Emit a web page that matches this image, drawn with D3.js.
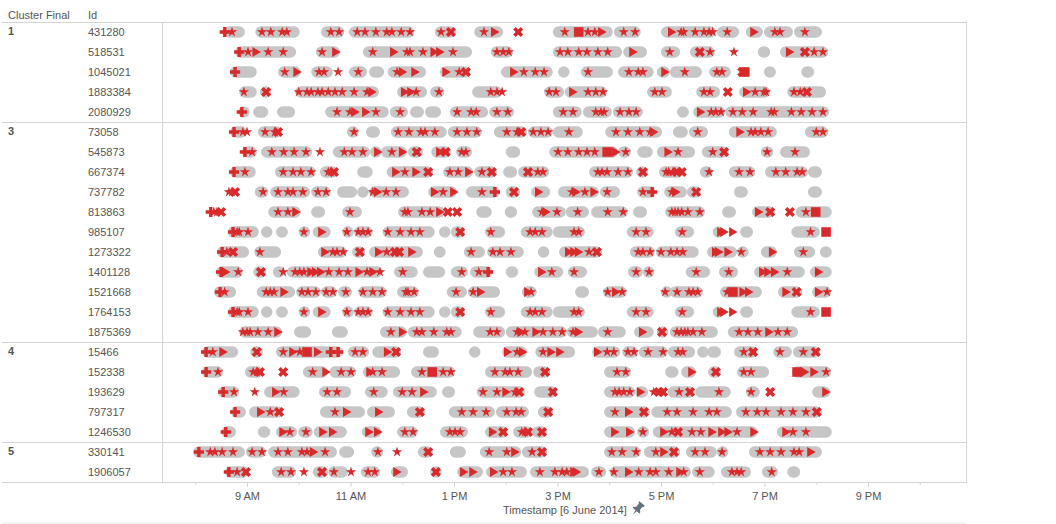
<!DOCTYPE html>
<html><head><meta charset="utf-8">
<script src="https://cdnjs.cloudflare.com/ajax/libs/d3/7.8.5/d3.min.js"></script>
<style>html,body{margin:0;padding:0;background:#fff;overflow:hidden}svg{display:block}text{font-family:"Liberation Sans",Arial,sans-serif;font-size:11px;fill:#555}</style>
</head><body><svg id="c" width="1056" height="524"></svg>
<script>
const clusters=["1","3","4","5"];
const clusterIds=[
[431280,518531,1045021,1883384,2080929],
[73058,545873,667374,737782,813863,985107,1273322,1401128,1521668,1764153,1875369],
[15466,152338,193629,797317,1246530],
[330141,1906057]];
const tickHours=[8,9,10,11,12,13,14,15,16,17,18,19,20,21,22];
const labelHours=[9,11,13,15,17,19,21];
const axisTitle="Timestamp [6 June 2014]";
const headerCluster="Cluster Final", headerId="Id";

// Timestamp spans and events in decimal hours of the day, one entry per Id in order.
const r985107Spans=[[8.63,9.23],[9.27,9.46],[9.56,9.79],[10,10.22],[10.27,10.62],[10.84,11.05],[11.07,11.43],[11.62,12.63],[12.71,12.92],[12.94,13.21],[13.6,13.99],[14.29,14.91],[14.91,15.53],[16.34,16.86],[17.27,17.64],[18,18.14],[18.53,18.78],[19.52,20.07]];
const r985107Stars=[8.81,8.85,9.02,10.1,10.93,11.15,11.24,11.34,11.72,11.96,12.17,12.34,13.71,14.47,14.57,14.7,15.32,15.41,16.52,16.71,17.41,19.89];
const spans=[
[[8.55,8.96],[9.16,10.02],[10.43,10.88],[10.97,12.23],[12.63,13.04],[13.39,13.95],[14.91,16.07],[16.09,16.61],[17,18.06],[18.08,18.51],[18.64,18.97],[18.99,19.55],[19.57,20.11]],
[[8.77,9.95],[10.33,10.8],[11.24,13.35],[13.71,14.14],[14.91,16.25],[16.27,16.73],[17,17.37],[17.56,18.04],[18.87,19.11],[19.3,20.23]],
[[8.67,9.19],[9.6,10.04],[10.24,10.66],[10.97,11.32],[11.36,11.65],[11.72,12.46],[12.73,13.31],[13.91,14.91],[15.01,15.2],[15.45,16.07],[16.17,16.86],[16.92,17.17],[17.17,17.79],[17.93,18.35],[18.99,19.22],[19.71,19.96]],
[[8.85,9.19],[9.25,9.45],[9.93,11.55],[11.9,12.48],[12.54,12.81],[13.35,13.93],[14.74,15.13],[15.14,15.96],[16.73,17.21],[17.68,18.14],[18.51,19.11],[19.44,20.19]],
[[8.83,9.02],[9.12,9.41],[9.58,9.93],[10.51,11.74],[11.76,12.11],[12.15,12.42],[12.44,12.75],[12.92,13.66],[13.68,14.16],[14.91,15.47],[15.49,16.05],[16.07,16.65],[17.31,17.54],[17.62,18.24],[18.24,20.25]],
[[8.67,9],[9.21,9.68],[10.93,11.16],[11.3,11.57],[11.78,12.86],[12.88,13.54],[13.77,14.41],[14.43,14.91],[14.91,15.49],[15.92,17.02],[17.23,17.52],[17.54,17.91],[18.31,19.24],[19.78,20.23]],
[[8.9,9.19],[9.27,10.26],[10.66,11.38],[11.38,11.57],[11.59,12.09],[12.11,12.4],[12.56,12.94],[13.04,13.35],[14,14.28],[14.84,16.17],[16.17,16.42],[16.54,16.84],[16.92,17.66],[17.79,18.31],[18.93,19.17],[19.3,19.88]],
[[8.67,9.17],[9.54,10.33],[10.41,10.76],[11.13,11.43],[11.7,12.6],[12.79,13.37],[13.39,13.83],[13.95,14.22],[14.24,14.84],[15.61,16.46],[16.52,16.75],[16.96,17.44],[17.75,18],[18.31,18.82],[19.01,19.84],[19.84,20.11]],
[[9.15,9.41],[9.45,10.22],[10.24,10.62],[10.74,11.13],[11.13,11.34],[11.36,12.13],[12.5,13.06],[13.23,13.89],[14,14.28],[14.49,14.86],[15.01,15.8],[15.82,16.21],[16.54,16.9],[17.06,17.5],[17.5,17.77],[18.41,18.68],[19.84,20.11]],
[[9.41,10.04],[10.24,10.51],[10.84,11.22],[11.92,12.82],[13.43,13.73],[13.98,14.22],[14.51,15.16],[15.16,15.61],[15.65,16.36],[16.46,16.73],[17.08,17.85],[18.18,18.45],[18.76,19.2],[19.6,20.3]],
r985107Spans,
[[8.42,9.04],[9.14,9.66],[10.37,10.93],[11.03,11.28],[11.36,12.4],[12.61,12.84],[13.19,13.6],[13.64,14.35],[14.62,14.84],[15.03,15.86],[16.4,16.88],[16.9,17.73],[17.89,18.47],[18.47,18.64],[18.93,19.24],[19.57,19.98],[20.07,20.3]],
[[8.4,8.92],[9.12,9.37],[9.5,9.73],[9.77,11.62],[11.84,12.3],[12.4,12.83],[12.94,13.27],[13.31,13.75],[14,14.24],[14.55,15.11],[15.2,15.57],[16.36,16.65],[16.65,16.86],[17.48,17.95],[18.12,18.49],[18.8,19.78],[19.88,20.3]],
[[8.36,8.79],[9.19,9.93],[9.95,10.43],[10.43,10.74],[10.76,11.03],[11.15,11.7],[11.9,12.32],[12.86,13.25],[13.27,13.89],[14.31,14.6],[15.34,15.61],[15.88,16.34],[17,17.17],[17.17,17.81],[18.14,18.95],[19.26,19.73],[19.92,20.29]],
r985107Spans,
[[8.85,9.68],[9.91,10.24],[10.64,10.95],[11.57,12.09],[12.11,13.15],[13.37,13.99],[14,15.18],[15.18,15.78],[15.78,16.32],[16.48,16.86],[16.92,17.13],[17.17,18.1],[18.29,19.65]],
[[8.13,8.83],[9.06,9.31],[9.56,10.86],[10.95,11.36],[11.42,11.98],[12.4,12.71],[13.29,13.5],[13.93,14.41],[14.57,15.34],[15.67,16.21],[16.25,16.56],[16.57,17.13],[17.13,17.66],[17.7,17.89],[17.89,18.16],[18.41,18.87],[19.17,19.53],[19.55,20.07]],
[[8.13,8.54],[8.96,9.31],[10.08,10.57],[10.59,11.11],[11.24,11.96],[12.17,13.02],[13.6,14.51],[14.53,14.86],[15.9,16.42],[17.08,17.34],[17.39,17.68],[17.91,18.16],[18.47,19.09],[19.53,20.29]],
[[8.44,8.85],[9.33,10.02],[10.39,11.01],[11.28,11.72],[11.82,12.67],[12.77,13.02],[13.44,14.37],[14.55,15],[15.9,16.5],[16.5,16.75],[17.13,17.66],[17.66,18.35],[18.64,18.91],[19.92,20.27]],
[[8.69,8.98],[9.04,9.7],[10.41,11.28],[11.32,11.86],[12.09,12.44],[12.9,13.79],[13.81,14.45],[14.62,14.91],[15.9,16.79],[16.81,18.37],[18.45,20.11]],
[[8.5,8.79],[9.21,9.45],[9.56,9.97],[9.99,10.27],[10.29,10.93],[11.22,11.6],[11.9,12.3],[12.73,13.27],[13.6,14.04],[14.14,14.51],[14.51,14.8],[15.9,16.5],[16.54,16.77],[16.84,18.87],[19.24,20.3]],
[[7.96,8.96],[8.98,9.37],[9.41,10.74],[10.78,11.07],[11.4,11.63],[12.3,12.59],[12.92,13.23],[13.5,14.3],[14.31,14.8],[15.9,16.61],[16.67,17.37],[17.48,18.08],[18.08,18.3],[18.7,20.11]],
[[8.57,9.04],[9.48,9.95],[10.27,10.57],[10.57,10.95],[11.2,11.57],[11.78,12.11],[12.54,12.75],[13.06,13.56],[13.62,14.41],[14.47,15.61],[15.65,15.94],[16.01,17.58],[17.6,18.04],[18.16,18.74],[18.95,19.26],[19.44,19.69]]
];
const stars=[
[8.71,9.29,9.46,9.68,9.77,10.62,10.78,11.13,11.28,11.49,11.7,11.8,11.98,12.15,12.75,13.58,15.14,15.59,15.72,16.28,16.5,17.39,17.44,17.66,17.83,17.93,18,18.28,19.2,19.3,19.78],
[9.02,9.41,9.7,10.45,11.43,12.09,12.15,12.4,12.98,13.83,13.95,14.06,15.05,15.2,15.41,15.57,15.78,15.97,17.17,17.95,18.41,19.96,20.13],
[9.73,10.39,10.49,10.76,11.15,11.9,13.1,14.35,14.57,14.74,15.59,16.38,16.56,16.65,17.46,18.08,18.18],
[8.94,10,10.16,10.24,10.37,10.45,10.57,10.7,10.84,11.07,11.32,12.27,12.71,13.71,13.83,13.93,14.84,14.97,15.59,15.74,15.88,16.88,17.02,17.83,17.95,18.82,18.99,19.03,19.57,19.69],
[10.74,10.99,11.49,11.96,13.06,13.33,13.43,13.83,14.04,15.11,15.3,15.74,15.84,15.9,16.21,16.38,16.52,17.97,18.06,18.16,18.39,18.57,18.78,19.13,19.19,19.52,19.71,19.92,20.13],
[8.92,9,9.35,9.54,11.07,11.92,12.13,12.36,12.44,12.63,13.06,13.25,13.44,14.02,14.22,14.53,14.68,14.82,15.22,16.13,16.36,16.59,16.79,17.71,18.74,18.82,18.93,19.07,20,20.13],
[9.1,9.48,9.71,9.91,10.14,10.41,10.88,11.03,11.24,11.8,13.15,13.23,15.01,15.2,15.41,15.57,15.72,16.32,17.33,18,19.05,19.59],
[8.96,9.7,9.89,10.04,10.24,10.57,10.62,12.05,12.92,13.08,13.54,14.62,14.72,15.78,15.86,15.96,16.17,16.36,17.1,17.15,17.23,17.93,18.51,18.72,19.22,19.41,19.63,19.73],
[8.65,8.71,9.31,9.6,9.79,9.89,10.08,10.37,10.53,11.43,11.69,11.88,12.79,13.54,15.28,15.53,15.96,16.65,17.21],
[8.36,8.42,9.6,9.79,10.99,12.05,12.11,12.38,12.54,14.7,14.99,15.39,15.97,16.27,17.21,17.27,17.33,17.4,17.52,17.75,19.8],
r985107Stars,
[8.61,9.25,10.66,10.74,10.86,11.7,13.33,13.75,13.89,14.1,15.61,16.56,16.65,16.79,17,17.19,17.31,17.42,18.55,19.75],
[8.83,9.7,9.93,10.02,10.1,10.58,10.78,10.95,11.32,11.57,12.01,13.15,13.48,14.89,15.32,16.52,16.77,17.68,18.31,19.44],
[8.57,9.37,9.45,9.52,10.06,10.18,10.33,10.53,10.66,10.91,11.24,11.43,11.61,12.07,12.11,12.23,13.04,13.37,14.49,15.97,16.25,17.08,17.31,17.54,17.62,17.71,18.28,20.21],
r985107Stars,
[8.92,9,9.06,9.21,9.41,11.78,12.28,12.38,12.61,12.86,12.94,13.7,13.83,14.22,14.37,14.72,14.91,15.09,15.3,15.97,17.31,17.39,17.46,17.52,17.62,17.79,18.51,18.68,18.87,19.26,19.44],
[8.34,9.7,10.02,11.09,11.24,14.22,14.72,15.96,16.09,16.36,16.48,16.75,17.04,17.33,17.42,18.6,19.3,19.75],
[8.44,9.12,9.19,10.27,10.82,11.01,11.43,11.61,12.38,12.79,12.94,13.79,13.99,14.08,14.24,16.15,16.32,18.6,18.74,20.19],
[8.75,9.15,9.71,10.55,10.74,11.45,12,12.19,13.56,13.83,14.18,16.11,16.19,16.28,16.4,16.86,17.35,18.12,18.74],
[9.45,10.7,13.15,13.37,13.62,14.02,14.2,14.3,16.11,17.12,17.31,17.62,17.93,18.08,18.64,18.86,19.03,19.32,19.55,19.8],
[9.83,10.14,12.05,12.21,12.92,13.02,13.12,14.31,14.37,16.65,17.21,17.6,17.77,18.47,19.55,19.8],
[8.29,8.38,8.52,8.73,9.1,9.29,9.6,9.79,10.06,10.16,10.51,11.53,11.9,13.68,14.02,14.51,16.05,16.25,16.52,16.9,17.66,17.85,18.18,18.91,19.11,19.32,19.57,19.67],
[8.81,9.66,9.85,10.1,10.68,11.01,11.34,11.47,13.95,14.12,14.66,14.95,15.09,15.18,15.8,16.09,16.57,16.79,16.9,17.15,17.44,17.75,18.37,18.47,18.55,19.14]
];
const triangles=[
[13.77,15.84,17.19,18.78],
[9.16,10.7,11.82,12.6,12.71,16.44,19.47],
[9.95,11.99,12.23,12.83,14.14,17.06],
[11.4,12.03,12.15,15.28,18.64],
[11.07,11.28,17.75],
[16.84,18.51],
[11.51,11.99,12.71,16.11,17.12],
[11.86,12.25,13.27],
[11.51,12.61,12.98,14.62,15.34,15.69,17.27],
[9.93,12.71,14.76,18.87],
[10.43,18.14,18.2,18.37],
[10.49,11.53,12.17,15.2,15.3,15.39,18.04,18.1,18.28,19.14],
[8.57,10.22,10.31,10.41,11.15,11.42,14.68,18.95,19.05,19.18,20.03],
[9.7,13.5,14.41,16.11,18.57,18.68,19.4,20.03],
[10.43,18.14,18.2,18.37],
[9.58,11.99,14.28,14.57,15.39,16.63,19.07],
[8.52,9.87,10.35,11.7,14.02,14.31,14.86,15.03,15.76],
[10.51,11.36,17.58,19.76,19.94],
[9.54,12.4,13.99,16.59,20.17],
[9.25,10.91,11.53,16.36],
[9.68,10.45,10.64,11.34,11.51,13.73,16.09,16.38,17.04,17.97,18.16,18.28,18.78,19.4],
[10.27,14.16,17.04,19.88],
[11.88,13.17,13.35,13.75,15.3,15.35,16.36,17.35]
];
const crosses=[
[12.94,14.24],[17.75,19.78],[13.23,18.57],[9.37,18.29,19.82],[],
[9.6,14.3],[12.28,12.84,18.22],[10.68,12.5,13.73,14.43,16.65,17.31,17.4],[8.77,14.16,17.68],[8.5,12.88,13.06,19.11,19.49],[13.12],
[8.73,11.18,11.86,11.94,15.76],[9.27],[19.62],[13.12],[17.02],
[9.19,11.88,18.78,19.99],[9.25,9.7,14.76,18.06],[14.26,14.91,16.96,17.04,17.56,19.11],[9.62,12.34,14.82,16.67,20.01],[13.95,14.43,14.7,17.33],
[12.5,14.7,17.25],[8.98,10.45,12.65]
];
const pluses=[
[8.57],[8.85],[8.77],[],[8.9],
[8.75],[8.96],[8.75],[13.79,16.83],[8.3],[8.73],
[8.52],[8.5,13.66],[8.48],[8.73],[],
[8.21,10.62,10.76],[8.21],[8.54],[8.77],[8.59],
[8.07],[8.65]
];
const squares=[
[15.41],[],[18.62],[],[],
[],[15.96],[],[],[19.99],[20.19],
[],[],[18.39],[20.19],[],
[10.16],[12.58,19.63],[],[],[],
[],[]
];

const frameLeft=2,colSep=162,frameRight=966,frameTop=22,frameBottom=482;
const grey="#d4d4d4",red="#d92a2b",pill="#c6c6c6";
const svg=d3.select("#c");
const rows=clusterIds.flat();
const y=d3.scaleBand().domain(rows).range([frameTop,frameBottom]);
const x=d3.scaleLinear().domain([7.377,22.894]).range([163,966]);
const pillH=11.5;

// frame
svg.append("g").attr("stroke",grey).attr("fill","none").attr("shape-rendering","crispEdges")
 .call(g=>{
  g.append("line").attr("x1",frameLeft).attr("x2",frameRight).attr("y1",frameTop+.5).attr("y2",frameTop+.5);
  g.append("line").attr("x1",colSep+.5).attr("x2",colSep+.5).attr("y1",frameTop).attr("y2",frameBottom);
  g.append("line").attr("x1",frameRight+.5).attr("x2",frameRight+.5).attr("y1",frameTop).attr("y2",frameBottom+.5);
  clusterIds.forEach(ids=>{
    const yy=y(ids[ids.length-1])+y.bandwidth();
    g.append("line").attr("x1",frameLeft).attr("x2",frameRight).attr("y1",yy+.5).attr("y2",yy+.5);
  });
  g.append("line").attr("x1",frameLeft).attr("x2",frameRight).attr("y1",523.5).attr("y2",523.5).attr("stroke","#ececec");
 });

// headers and labels
svg.append("text").attr("x",8).attr("y",19).text(headerCluster);
svg.append("text").attr("x",88).attr("y",19).text(headerId);
clusters.forEach((c,i)=>{
  svg.append("text").attr("x",8).attr("y",y(clusterIds[i][0])+y.bandwidth()/2+3).attr("font-weight","bold").style("font-weight","bold").text(c);
});
svg.append("g").selectAll("text").data(rows).join("text")
  .attr("x",88).attr("y",d=>y(d)+y.bandwidth()/2+4).text(d=>d);

// marks
const flatten=arr=>arr.flatMap((vals,i)=>vals.map(v=>({row:rows[i],v})));
svg.append("g").selectAll("rect")
  .data(flatten(spans)).join("rect")
  .attr("x",d=>x(d.v[0])).attr("width",d=>Math.max(pillH,x(d.v[1])-x(d.v[0])))
  .attr("y",d=>y(d.row)+y.bandwidth()/2-pillH/2).attr("height",pillH)
  .attr("rx",pillH/2).attr("fill",pill);

const shapes=[
 [stars,d3.symbol(d3.symbolStar,33)(),0],
 [triangles,d3.symbol(d3.symbolTriangle,42)(),90],
 [squares,d3.symbol(d3.symbolSquare,92)(),0],
 [pluses,d3.symbol(d3.symbolCross,58)(),0],
 [crosses,d3.symbol(d3.symbolCross,64)(),45]
];
const mg=svg.append("g").attr("fill",red);
shapes.forEach(([arr,path,rot])=>{
  mg.append("g").selectAll("path").data(flatten(arr)).join("path")
    .attr("d",path)
    .attr("transform",d=>`translate(${x(d.v)},${y(d.row)+y.bandwidth()/2}) rotate(${rot})`);
});

// axis
const fmt=h=>labelHours.includes(h)?`${h>12?h-12:h} ${h>=12?"PM":"AM"}`:"";
const ax=svg.append("g").attr("transform",`translate(0,${frameBottom})`)
  .call(d3.axisBottom(x).tickValues(tickHours).tickFormat(fmt).tickSize(2).tickPadding(8));
ax.select(".domain").remove();
ax.selectAll(".tick line").attr("stroke",grey).attr("y1",1)
  .attr("y2",h=>labelHours.includes(h)?5:3);
ax.selectAll(".tick text").attr("fill","#555").attr("font-size",null).attr("font-family",null);

// axis title and pin
svg.append("text").attr("x",503).attr("y",514).text(axisTitle);
svg.append("path").attr("transform","translate(637.5,509) rotate(40) scale(1.1)").attr("fill","#66707e")
  .attr("d","M-3.2,-6.5 H3.2 V-5.2 L2.2,-4.6 V-1.2 L4,1 V2 H0.7 L0,6.8 L-0.7,2 H-4 V1 L-2.2,-1.2 V-4.6 L-3.2,-5.2 Z");
</script></body></html>
